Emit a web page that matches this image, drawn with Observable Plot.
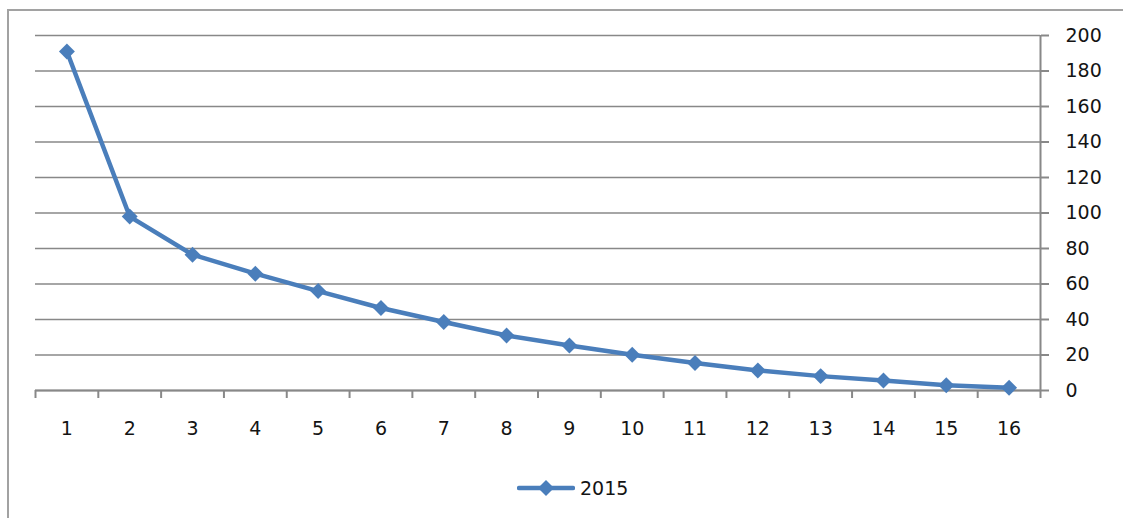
<!DOCTYPE html>
<html>
<head>
<meta charset="utf-8">
<script src="https://cdn.jsdelivr.net/npm/d3@7"></script>
<script src="https://cdn.jsdelivr.net/npm/@observablehq/plot@0.6"></script>
<style>
  html, body { margin: 0; padding: 0; background: #fff; overflow: hidden; }
  #wrap { position: relative; width: 1123px; height: 518px; overflow: hidden; font-family: "DejaVu Sans", sans-serif; }
  #border { position: absolute; left: 7px; top: 9px; width: 1300px; height: 700px; border: 2px solid #a2a2a2; box-sizing: border-box; }
  #chart { position: absolute; left: 0; top: 0; }
  #legend { position: absolute; left: 517px; top: 477px; display: flex; align-items: center; font-size: 19px; color: #141414; }
  #legend span { margin-left: 5px; }
</style>
</head>
<body>
<div id="wrap">
  <div id="border"></div>
  <div id="chart"></div>
  <div id="legend"></div>
</div>
<script>
const seriesName = "2015";
const categories = [1, 2, 3, 4, 5, 6, 7, 8, 9, 10, 11, 12, 13, 14, 15, 16];
const values = [191, 98, 76.5, 65.8, 56, 46.5, 38.6, 31, 25.4, 20.1, 15.5, 11.3, 8.1, 5.6, 3, 1.5];
const yTicks = [0, 20, 40, 60, 80, 100, 120, 140, 160, 180, 200];

const blue = "#4a7ebb";
const grid = "#888888";
const textColor = "#141414";

const data = categories.map((c, i) => ({x: c, y: values[i]}));
const boundaries = categories.map(c => c - 0.5).concat([d3.max(categories) + 0.5]);
const xMin = d3.min(categories) - 0.5, xMax = d3.max(categories) + 0.5;

const chart = Plot.plot({
  width: 1123,
  height: 518,
  marginLeft: 35,
  marginRight: 83,
  marginTop: 35,
  marginBottom: 128,
  style: {fontFamily: "DejaVu Sans, sans-serif", fontSize: "19px", color: textColor, background: "transparent", overflow: "visible"},
  x: {domain: [xMin, xMax], axis: null},
  y: {domain: [0, 200], axis: null},
  marks: [
    Plot.gridY(yTicks, {stroke: grid, strokeOpacity: 1, strokeWidth: 1.6}),
    Plot.ruleY([0], {stroke: grid, strokeWidth: 2}),
    Plot.ruleX([xMax], {y1: 0, y2: 200, stroke: grid, strokeWidth: 2}),
    Plot.axisY(yTicks, {anchor: "right", label: null, tickSize: 8, tickPadding: 17, stroke: grid, strokeWidth: 2, fill: textColor, fontSize: 19, tickFormat: d => String(d)}),
    Plot.axisX(boundaries, {anchor: "bottom", label: null, tickSize: 8, stroke: grid, strokeWidth: 2, tickFormat: () => ""}),
    Plot.axisX(categories, {anchor: "bottom", label: null, tickSize: 0, tickPadding: 31, fill: textColor, fontSize: 19, tickFormat: d => String(d)}),
    Plot.line(data, {x: "x", y: "y", stroke: blue, strokeWidth: 4.5, strokeLinejoin: "round"}),
    Plot.dot(data, {x: "x", y: "y", symbol: "diamond2", r: 7.2, fill: blue, stroke: "none"})
  ]
});
document.getElementById("chart").appendChild(chart);

// legend
const legend = document.getElementById("legend");
const ns = "http://www.w3.org/2000/svg";
const sw = document.createElementNS(ns, "svg");
sw.setAttribute("width", 58);
sw.setAttribute("height", 20);
const ln = document.createElementNS(ns, "line");
ln.setAttribute("x1", 2); ln.setAttribute("x2", 56); ln.setAttribute("y1", 10); ln.setAttribute("y2", 10);
ln.setAttribute("stroke", blue); ln.setAttribute("stroke-width", 4.5); ln.setAttribute("stroke-linecap", "round");
const dm = document.createElementNS(ns, "path");
dm.setAttribute("d", "M29,2 L37,10 L29,18 L21,10 Z");
dm.setAttribute("fill", blue);
sw.appendChild(ln); sw.appendChild(dm);
legend.appendChild(sw);
const lt = document.createElement("span");
lt.textContent = seriesName;
legend.appendChild(lt);
</script>
</body>
</html>
